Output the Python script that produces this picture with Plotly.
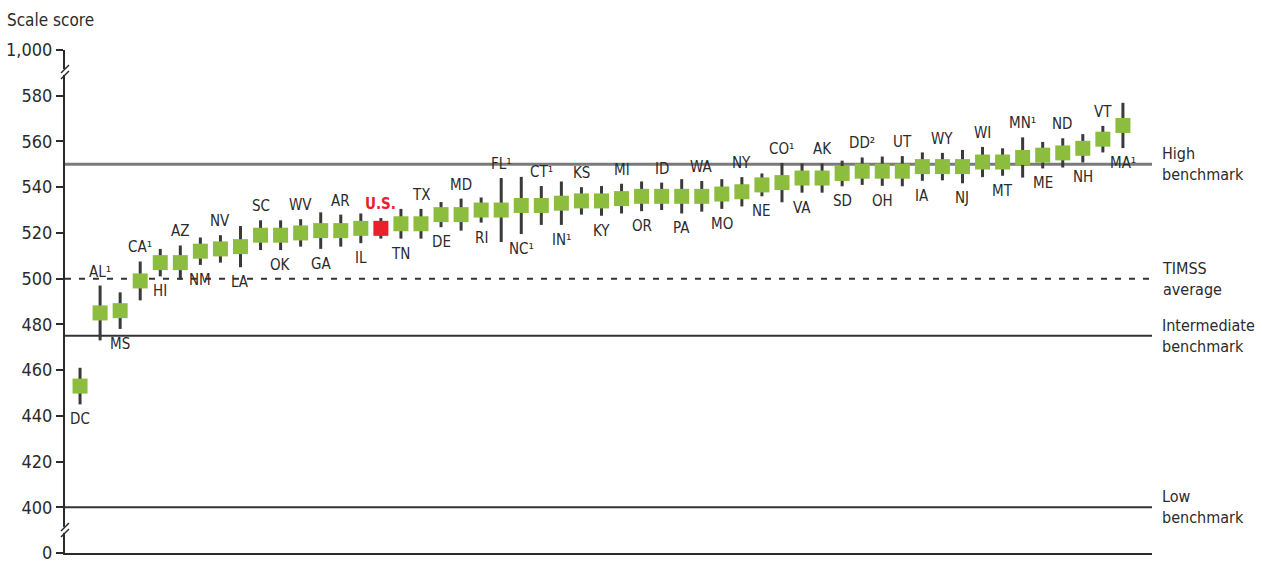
import plotly.graph_objects as go

# Jurisdictions ordered by average science scale score
codes = ["DC", "AL", "MS", "CA", "HI", "AZ", "NM", "NV", "LA", "SC",
         "OK", "WV", "GA", "AR", "IL", "U.S.", "TN", "TX", "DE", "MD",
         "RI", "FL", "NC", "CT", "IN", "KS", "KY", "MI", "OR", "ID",
         "PA", "WA", "MO", "NY", "NE", "CO", "VA", "AK", "SD", "DD",
         "OH", "UT", "IA", "WY", "NJ", "WI", "MT", "MN", "ME", "ND",
         "NH", "VT", "MA"]
footnotes = {"AL": "¹", "CA": "¹", "FL": "¹", "NC": "¹", "CT": "¹", "IN": "¹",
             "CO": "¹", "DD": "²", "MN": "¹", "MA": "¹"}
scores = [453, 485, 486, 499, 507, 507, 512, 513, 514, 519,
          519, 520, 521, 521, 522, 522, 524, 524, 528, 528,
          530, 530, 532, 532, 533, 534, 534, 535, 536, 536,
          536, 536, 537, 538, 541, 542, 544, 544, 546, 547,
          547, 547, 549, 549, 549, 551, 551, 553, 554, 555,
          557, 561, 567]
# Half-width of each confidence interval
margins = [8, 12, 8, 8.5, 6, 7.5, 6, 6, 9, 6.5,
           6.5, 6, 8, 7, 6.5, 4.5, 6.5, 6.5, 5.5, 7,
           5.5, 14, 12.5, 8.5, 9.5, 6, 6.5, 6.5, 6.5, 6,
           7.5, 6.7, 6.5, 6.4, 5, 8.6, 6.4, 6.4, 5.6, 6,
           6.4, 6.6, 6.2, 6, 7.3, 6.6, 6, 8.8, 5.8, 6.4,
           6.2, 5.8, 9.9]

# Reference lines: (score, label, style)
benchmarks = [(550, "High<br>benchmark", "high"),
              (500, "TIMSS<br>average", "avg"),
              (475, "Intermediate<br>benchmark", "mid"),
              (400, "Low<br>benchmark", "low")]

# Broken y axis: 0 and 1,000 are drawn at the ends of the 400-580 scale
axis_bottom, axis_top = 380, 600
tick_vals = [axis_bottom, 400, 420, 440, 460, 480, 500, 520, 540, 560, 580, axis_top]
tick_text = ["0", "400", "420", "440", "460", "480", "500", "520", "540", "560", "580", "1,000"]

FONT = "DejaVu Sans Condensed, Liberation Sans Narrow, Arial Narrow, sans-serif"
GREEN = "#8cbd3e"
RED = "#e8212b"
INK = "#2b2b2b"

colors = [RED if c == "U.S." else GREEN for c in codes]

fig = go.Figure()
fig.add_trace(go.Scatter(
    x=list(range(len(codes))), y=scores, mode="markers",
    marker=dict(symbol="square", size=15, color=colors, line=dict(width=0)),
    error_y=dict(type="data", array=margins, symmetric=True,
                 thickness=3, width=0, color="#3a3a3a"),
    hoverinfo="skip", showlegend=False,
))

shapes = []
for val, _, style in benchmarks:
    if style == "high":
        line = dict(color="#7a7a7a", width=3)
    elif style == "avg":
        line = dict(color="#333333", width=2, dash="6px,8px")
    else:
        line = dict(color="#333333", width=2)
    shapes.append(dict(type="line", xref="paper", yref="y", x0=0, x1=1,
                       y0=val, y1=val, line=line, layer="below"))

# Axis break marks
for yb in (590.4, 390.1):
    shapes.append(dict(type="rect", xref="paper", yref="y", xanchor=0, yanchor=yb,
                       xsizemode="pixel", ysizemode="pixel",
                       x0=-3, x1=3, y0=-3, y1=3,
                       fillcolor="white", line=dict(width=0)))
    for dy in (-4, 2):
        shapes.append(dict(type="line", xref="paper", yref="y", xanchor=0, yanchor=yb,
                           xsizemode="pixel", ysizemode="pixel",
                           x0=-4, x1=4, y0=dy - 3, y1=dy + 5,
                           line=dict(color="#2b2b2b", width=1.5)))

annotations = []
for i, (c, s, m) in enumerate(zip(codes, scores, margins)):
    txt = c + footnotes.get(c, "")
    col = INK
    if c == "U.S.":
        txt = f"<b>{c}</b>"
        col = RED
    above = (i % 2 == 1)
    annotations.append(dict(
        x=i, y=s + m if above else s - m, xref="x", yref="y",
        text=txt, showarrow=False,
        yanchor="bottom" if above else "top",
        yshift=3 if above else -4,
        font=dict(family=FONT, size=15, color=col),
    ))

for val, label, _ in benchmarks:
    annotations.append(dict(
        x=1, y=val, xref="paper", yref="y", xanchor="left", yanchor="middle",
        xshift=8, text=label, align="left", showarrow=False,
        font=dict(family=FONT, size=16, color=INK),
    ))

annotations.append(dict(
    x=0, y=1, xref="paper", yref="paper", xanchor="left", yanchor="middle",
    xshift=-60, yshift=30, text="Scale score", showarrow=False,
    font=dict(family=FONT, size=17, color=INK),
))

fig.update_layout(
    width=1262, height=565,
    margin=dict(l=65, r=110, t=50, b=12, autoexpand=False),
    paper_bgcolor="white", plot_bgcolor="white",
    font=dict(family=FONT, color=INK),
    shapes=shapes, annotations=annotations,
    xaxis=dict(range=[-0.75, 53.45], showgrid=False, zeroline=False,
               showticklabels=False, ticks="", showline=True, automargin=False,
               linecolor="#2b2b2b", linewidth=2),
    yaxis=dict(range=[axis_bottom, axis_top], tickvals=tick_vals, ticktext=tick_text,
               showgrid=False, zeroline=False, showline=True, automargin=False,
               linecolor="#2b2b2b", linewidth=2,
               ticks="outside", ticklen=7, tickwidth=2, tickcolor="#2b2b2b",
               tickfont=dict(family=FONT, size=18, color=INK)),
)

fig.write_html("out.html")
